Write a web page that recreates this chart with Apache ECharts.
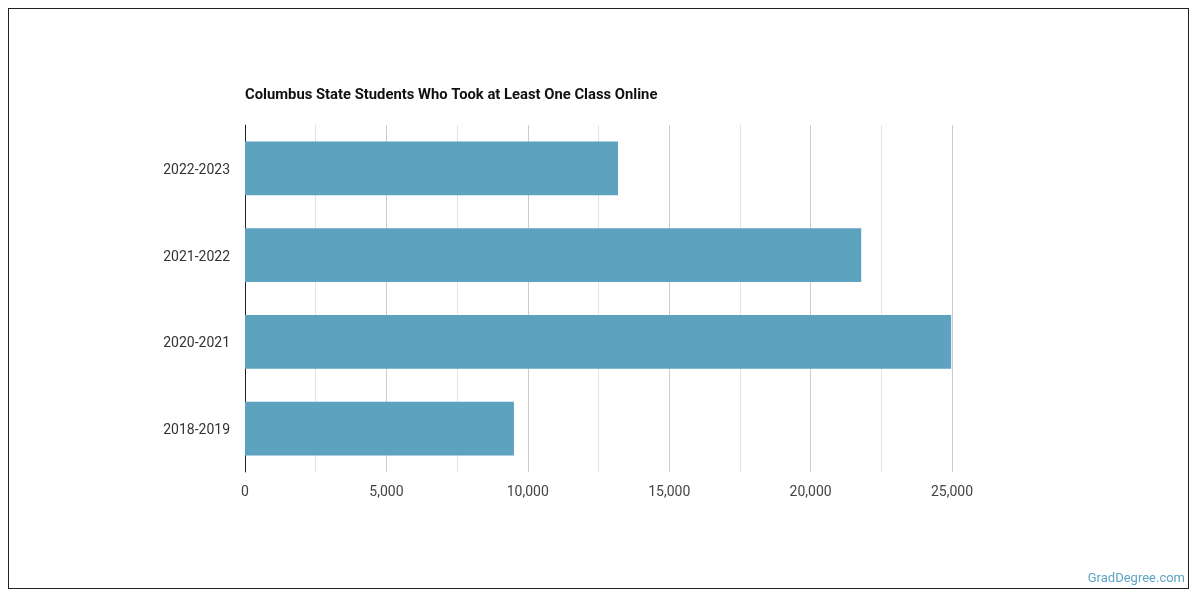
<!DOCTYPE html>
<html>
<head>
<meta charset="utf-8">
<script src="https://cdn.jsdelivr.net/npm/echarts@6/dist/echarts.min.js"></script>
<style>
html,body{margin:0;padding:0;background:#fff;}
#frame{position:absolute;left:8px;top:8px;width:1181px;height:581px;border:1px solid #222;box-sizing:border-box;}
#chart{position:absolute;left:0;top:0;width:1200px;height:600px;}
</style>
</head>
<body>
<div id="frame"></div>
<div id="chart"></div>
<script>
const categories = ['2018-2019', '2020-2021', '2021-2022', '2022-2023'];
const values = [9510, 24970, 21790, 13190];
const tickStep = 2500;
const labelStep = 5000;
const axisMax = 25000;

const chart = echarts.init(document.getElementById('chart'), null, {renderer: 'canvas'});
chart.setOption({
  animation: false,
  backgroundColor: 'transparent',
  textStyle: {fontFamily: 'Roboto'},
  title: {
    text: 'Columbus State Students Who Took at Least One Class Online',
    left: 245, top: 88, padding: 0,
    textStyle: {fontFamily: 'Roboto', fontSize: 14.8, fontWeight: 'bold', color: '#111'}
  },
  graphic: [{
    type: 'text', right: 15, bottom: 15,
    style: {text: 'GradDegree.com', fill: '#5fa3c2', font: '13px Roboto', textAlign: 'right'}
  }],
  grid: {left: 245, right: 248, top: 125, bottom: 128, containLabel: false},
  xAxis: {
    type: 'value', min: 0, max: axisMax, interval: tickStep,
    axisLine: {show: false}, axisTick: {show: false},
    splitLine: {show: true, lineStyle: {color: ['#cccccc', '#e3e3e3'], width: 1}},
    axisLabel: {
      color: '#444', fontSize: 14, margin: 13,
      formatter: v => (v % labelStep === 0 ? v.toLocaleString('en-US') : '')
    }
  },
  yAxis: {
    type: 'category', data: categories,
    axisLine: {show: true, lineStyle: {color: '#222', width: 1}},
    axisTick: {show: false},
    axisLabel: {
      color: '#333', fontSize: 14, margin: 15,
      formatter: v => '{c|' + v + '}',
      rich: {c: {color: '#333', fontSize: 14, fontFamily: 'Roboto', padding: [4, 0, 0, 0]}}
    }
  },
  series: [{
    type: 'bar', data: values, barWidth: '62%',
    itemStyle: {color: '#5da2be'}
  }]
});
</script>
</body>
</html>
